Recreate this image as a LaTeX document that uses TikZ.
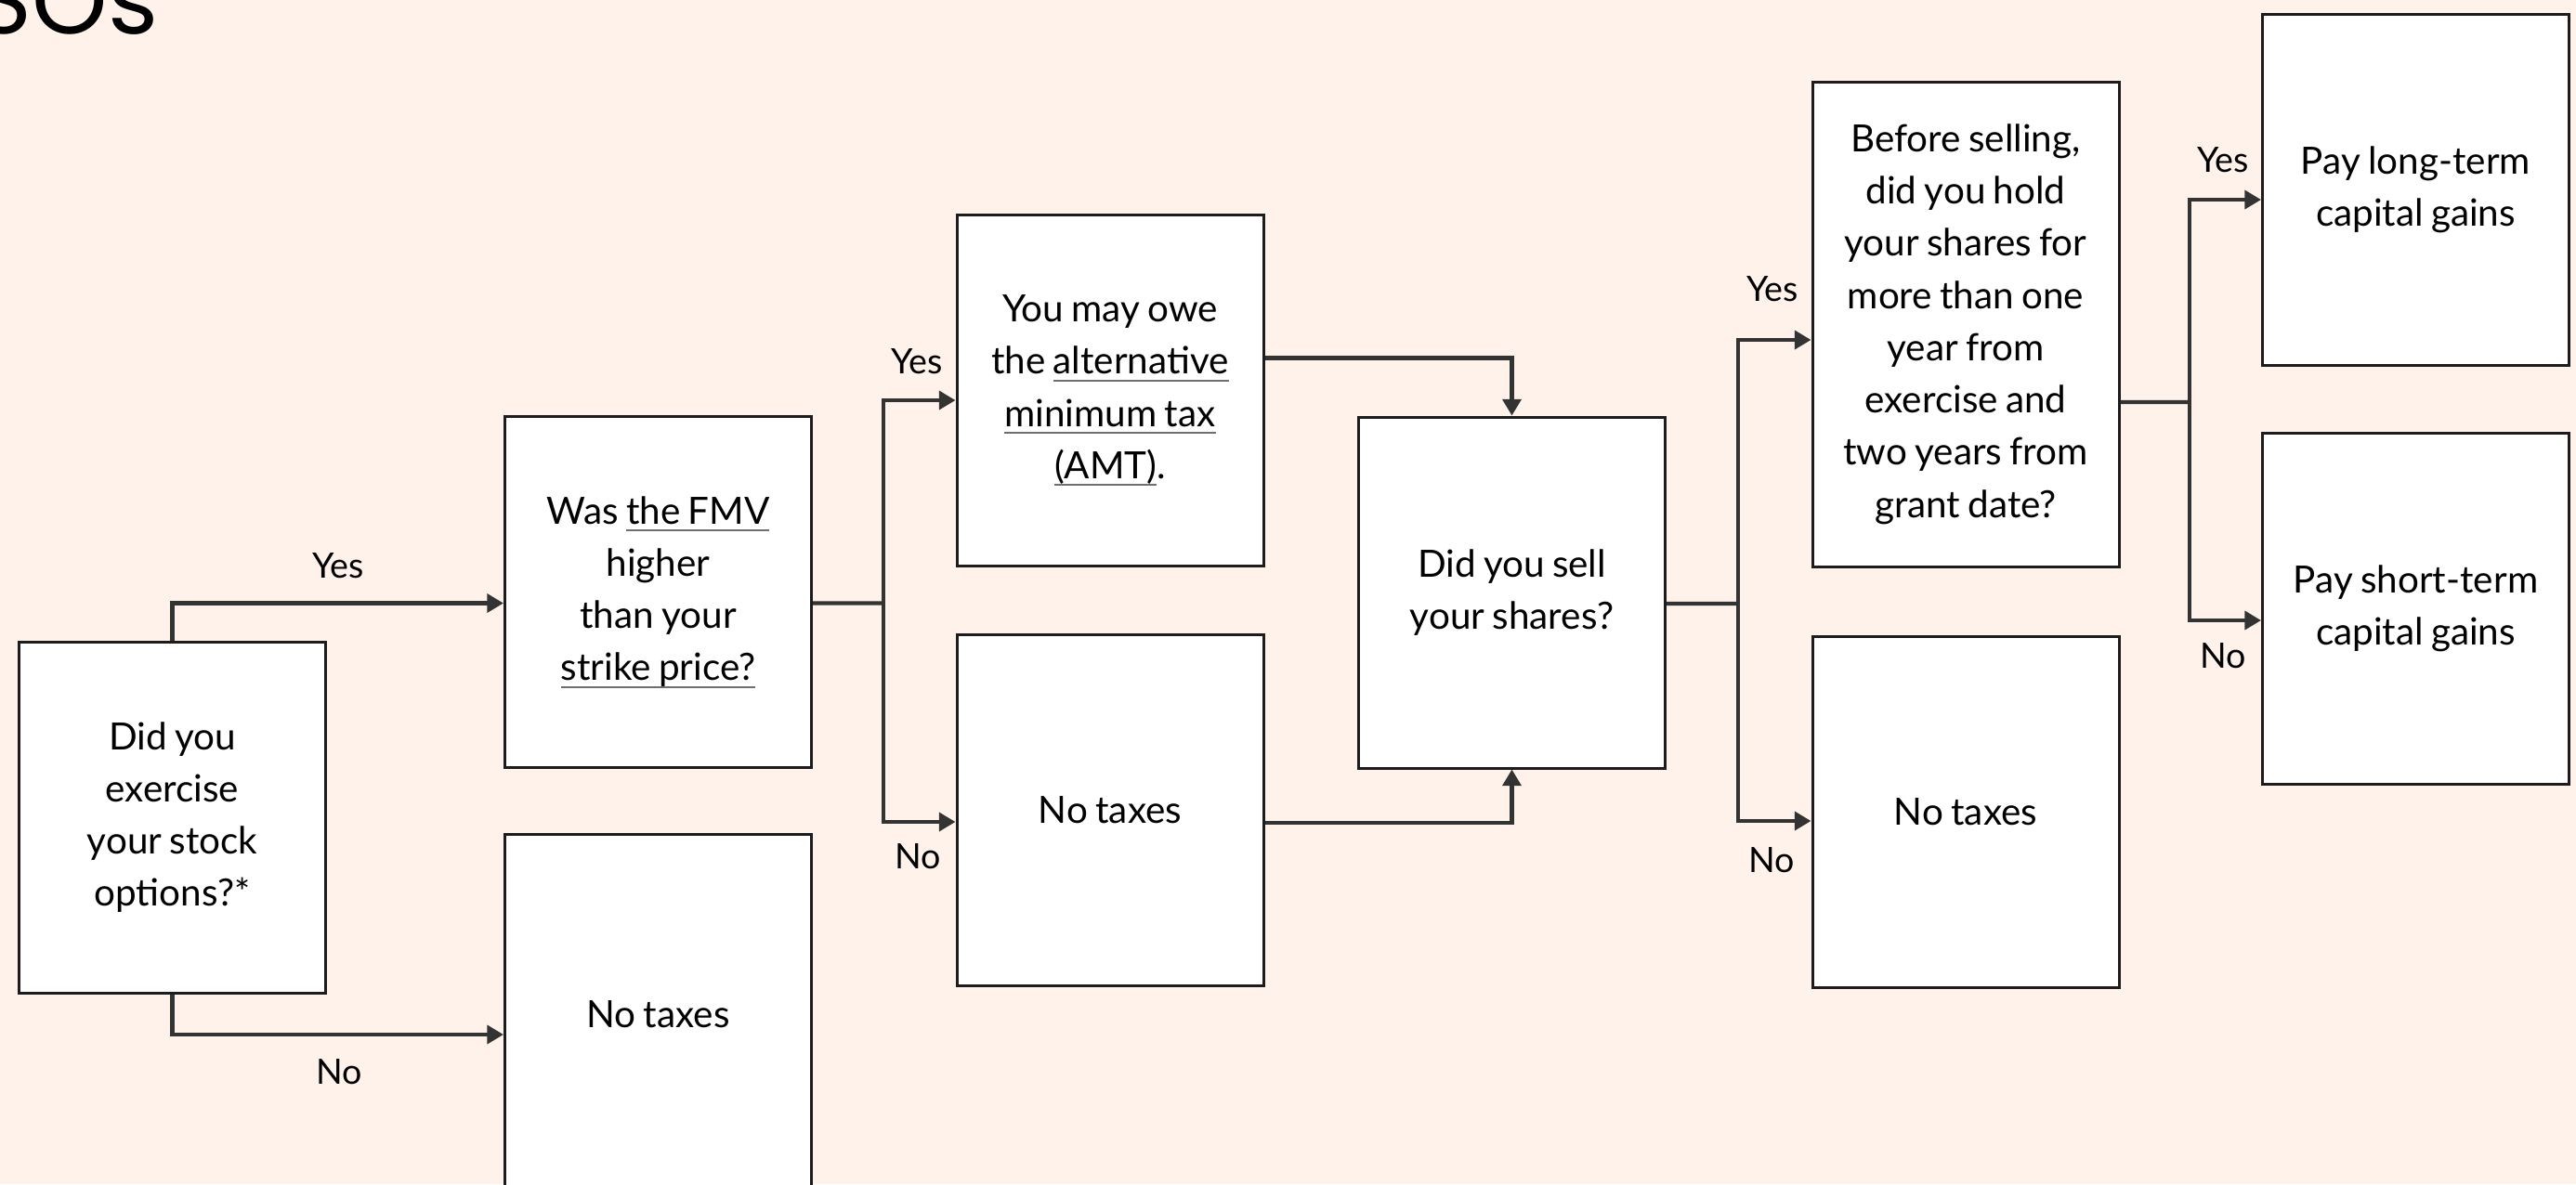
\documentclass[tikz,border=0pt]{standalone}
\usepackage{fontspec}
\setmainfont[WordSpace=0.8]{Lato}
\newfontfamily\titlefont{Poppins}
\usetikzlibrary{arrows.meta}

\definecolor{bgpeach}{HTML}{FEF2EA}
\definecolor{boxline}{HTML}{1C1C1C}
\definecolor{conline}{HTML}{333333}
\definecolor{ulgray}{HTML}{6E6E6E}

% underline at a fixed depth below the baseline
\newcommand\undl[1]{\sbox0{#1}\rlap{\color{ulgray}\rule[-2.3pt]{\wd0}{0.55pt}}\usebox0}

\tikzset{
  box/.style={draw=boxline, line width=0.85pt, fill=white, minimum width=3.3cm,
    minimum height=3.78cm, align=center, inner sep=0pt,
    font=\fontsize{11.5}{16}\selectfont},
  conn/.style={draw=conline, line width=1.2pt},
  arr/.style={conn, -{Triangle[length=5pt,width=5.6pt]}},
  lab/.style={inner sep=0pt, font=\fontsize{10.7}{12}\selectfont}
}

\begin{document}
\begin{tikzpicture}
\useasboundingbox (0,0) rectangle (27.73,-12.75);
\fill[bgpeach] (0,0) rectangle (27.73,-12.75);

%title, cut at the page edge
\node[anchor=base west, inner sep=0pt, font=\titlefont\fontsize{29.5}{30}\selectfont] (title) at (-0.27,-0.36) {SOs};

%points where the connectors split

\coordinate (split1) at (9.51,-6.495);
\coordinate (split2) at (18.71,-6.50);
\coordinate (split3) at (23.57,-4.33);

%boxes

\node[box] (ex) at (1.855,-8.80) {Did you\\exercise\\your stock\\options?*};
\node[box] (fmv) at (7.085,-6.375) {Was \undl{the FMV}\\higher\\than your\\\undl{strike price?}};
\node[box, minimum height=3.88cm] (no1) at (7.085,-10.92) {No taxes};
\node[box] (amt) at (11.95,-4.205) {You may owe\\the \undl{alternative}\\\undl{minimum tax}\\\undl{(AMT)}.};
\node[box] (no2) at (11.95,-8.72) {No taxes};
\node[box] (sell) at (16.275,-6.38) {Did you sell\\your shares?};
\node[box, minimum height=5.22cm] (hold) at (21.16,-3.49) {Before selling,\\did you hold\\your shares for\\more than one\\year from\\exercise and\\two years from\\grant date?};
\node[box] (no3) at (21.16,-8.745) {No taxes};
\node[box] (long) at (26.005,-2.045) {Pay long-term\\capital gains};
\node[box] (short) at (26.005,-6.555) {Pay short-term\\capital gains};

%connectors

\draw[arr] (ex.north) |- ([yshift=-1.2mm]fmv.west);
\draw[arr] (ex.south) |- ([yshift=-2.2mm]no1.west);
\draw[conn] ([yshift=-1.2mm]fmv.east) -- (split1);
\draw[arr] (split1) |- ([yshift=-1.05mm]amt.west);
\draw[arr] (split1) |- ([yshift=-1.3mm]no2.west);
\draw[arr] ([yshift=3.5mm]amt.east) -| (sell.north);
\draw[arr] ([yshift=-1.4mm]no2.east) -| (sell.south);
\draw[conn] ([yshift=-1.2mm]sell.east) -- (split2);
\draw[arr] (split2) |- ([yshift=-1.7mm]hold.west);
\draw[arr] (split2) |- ([yshift=-0.95mm]no3.west);
\draw[conn] ([yshift=-8.4mm]hold.east) -- (split3);
\draw[arr] (split3) |- ([yshift=-1.05mm]long.west);
\draw[arr] (split3) |- ([yshift=-1.25mm]short.west);

%yes / no labels

\node[lab] (yes1) at (3.64,-6.09) {Yes};
\node[lab] (nolab1) at (3.65,-11.54) {No};
\node[lab] (yes2) at (9.87,-3.895) {Yes};
\node[lab] (nolab2) at (9.88,-9.22) {No};
\node[lab] (yes3) at (19.08,-3.11) {Yes};
\node[lab] (nolab3) at (19.07,-9.26) {No};
\node[lab] (yes4) at (23.93,-1.72) {Yes};
\node[lab] (nolab4) at (23.93,-7.06) {No};
\end{tikzpicture}
\end{document}
